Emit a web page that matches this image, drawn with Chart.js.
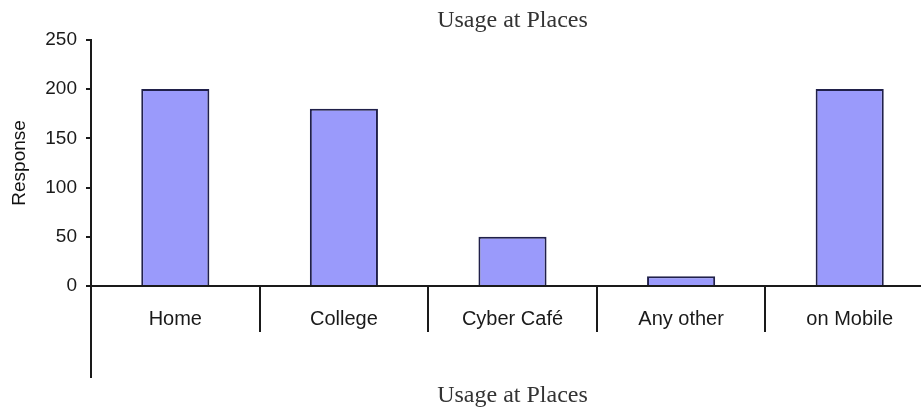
<!DOCTYPE html>
<html>
<head>
<meta charset="utf-8">
<script src="https://cdn.jsdelivr.net/npm/chart.js@4/dist/chart.umd.min.js"></script>
<style>
  html, body { margin: 0; padding: 0; background: #fff; overflow: hidden; }
  #wrap { width: 934px; height: 410px; }
</style>
</head>
<body>
<div id="wrap"><canvas id="c" width="934" height="410"></canvas></div>
<script>
// Survey: where respondents use the internet
const places = ['Home', 'College', 'Cyber Café', 'Any other', 'on Mobile'];
const responses = [200, 180, 50, 10, 200];
const yMin = 0;
const yMax = 250;
const yStep = 50;
const chartTitle = 'Usage at Places';
const xTitle = 'Usage at Places';
const yTitle = 'Response';

const ink = '#1a1a1a';
const sans = "'Liberation Sans', Arial, sans-serif";
const serif = "'Liberation Serif', 'Times New Roman', serif";

new Chart(document.getElementById('c'), {
  type: 'bar',
  data: {
    labels: places,
    datasets: [{
      label: yTitle,
      data: responses,
      yAxisID: 'y',
      backgroundColor: '#9a9afb',
      borderColor: '#20204a',
      borderWidth: 2,
      barPercentage: 0.404,
      categoryPercentage: 1.0
    }]
  },
  options: {
    responsive: false,
    animation: false,
    devicePixelRatio: 1,
    layout: { padding: { left: 0, right: 0, top: 0, bottom: 0 } },
    plugins: {
      legend: { display: false },
      tooltip: { enabled: false },
      title: {
        display: true,
        text: chartTitle,
        fullSize: false,
        color: '#333',
        font: { family: serif, size: 24, weight: 'normal' },
        padding: { top: 6, bottom: 5 }
      },
      subtitle: {
        display: true,
        text: xTitle,
        position: 'bottom',
        fullSize: false,
        color: '#333',
        font: { family: serif, size: 24, weight: 'normal' },
        padding: { top: 4, bottom: 0 }
      }
    },
    scales: {
      x: {
        type: 'category',
        position: { y: 0 },
        offset: true,
        grid: {
          display: true,
          offset: true,
          drawOnChartArea: false,
          drawTicks: true,
          tickLength: 45,
          color: ink,
          lineWidth: 2
        },
        border: { display: true, color: ink, width: 2 },
        ticks: {
          color: ink,
          padding: -24,
          font: { family: sans, size: 20 }
        }
      },
      y: {
        type: 'linear',
        position: 'left',
        stack: 'left',
        stackWeight: 2.7,
        weight: 1,
        min: yMin,
        max: yMax,
        afterFit(scale) { scale.width = 91; },
        ticks: {
          stepSize: yStep,
          color: ink,
          padding: 9,
          font: { family: sans, size: 19 }
        },
        grid: {
          drawOnChartArea: false,
          drawTicks: true,
          tickLength: 5,
          color: ink,
          lineWidth: 2
        },
        border: { display: true, color: ink, width: 2 },
        title: {
          display: true,
          text: yTitle,
          color: '#111',
          font: { family: sans, size: 19 },
          padding: { top: 8, bottom: 0 }
        }
      },
      yLow: {
        type: 'linear',
        position: 'left',
        stack: 'left',
        stackWeight: 1,
        weight: 0,
        min: 0,
        max: 1,
        ticks: { display: false },
        grid: { drawOnChartArea: false, drawTicks: false, color: 'rgba(0,0,0,0)' },
        border: { display: true, color: ink, width: 2 }
      }
    }
  }
});
</script>
</body>
</html>
